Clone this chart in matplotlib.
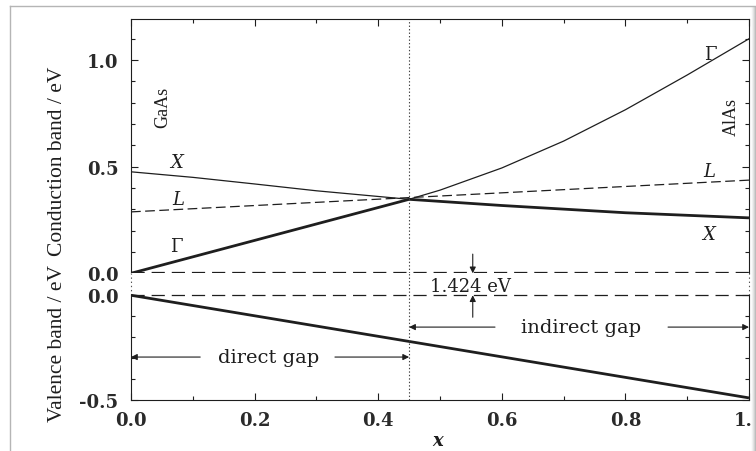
import matplotlib
matplotlib.use("Agg")
import matplotlib.pyplot as plt
import numpy as np
from matplotlib.ticker import MultipleLocator

# Band edges of Al(x)Ga(1-x)As, energies in eV
x_gamma_low = [0.0, 0.45]
e_gamma_low = [0.0, 0.347]
x_gamma_high = [0.45, 0.5, 0.6, 0.7, 0.8, 0.9, 1.0]
e_gamma_high = [0.347, 0.39, 0.494, 0.62, 0.767, 0.93, 1.10]
x_xband_high = [0.0, 0.1, 0.2, 0.3, 0.45]
e_xband_high = [0.476, 0.450, 0.419, 0.387, 0.347]
x_xband_low = [0.45, 0.6, 0.8, 1.0]
e_xband_low = [0.347, 0.318, 0.284, 0.260]
x_lband = [0.0, 1.0]
e_lband = [0.288, 0.437]
x_valence = [0.0, 1.0]
e_valence = [0.0, -0.49]

x_crossover = 0.45
gaas_gap = "1.424 eV"
x_ticks = [0.0, 0.2, 0.4, 0.6, 0.8, 1.0]
cb_ticks = [0.0, 0.5, 1.0]
vb_ticks = [-0.5, 0.0]

INK = "#1e1e1e"
SERIF = "DejaVu Serif"
TIMES = "Liberation Serif"
plt.rcParams["lines.scale_dashes"] = False

W, H = 756, 452
fig = plt.figure(figsize=(W / 100, H / 100), dpi=100)
fig.patch.set_facecolor("white")


def fx(px):
    return px / W


def fy(py):
    return 1 - py / H


left, right = fx(131), fx(749)
ax_c = fig.add_axes([left, fy(274.3), right - left, fy(19.5) - fy(274.3)])
ax_v = fig.add_axes([left, fy(401), right - left, fy(274.3) - fy(401)])

ax_c.set_xlim(0, 1)
ax_c.set_ylim(0, 1.195)
ax_v.set_xlim(0, 1)
ax_v.set_ylim(-0.5, 0.1048)

for ax in (ax_c, ax_v):
    for s in ax.spines.values():
        s.set_linewidth(0.8)
        s.set_color(INK)
    ax.xaxis.set_major_locator(MultipleLocator(0.2))
    ax.xaxis.set_minor_locator(MultipleLocator(0.1))
    ax.tick_params(which="both", direction="in", top=True, right=True,
                   colors=INK, width=0.8)
    ax.tick_params(which="major", length=5)
    ax.tick_params(which="minor", length=3)

tick_font = dict(family=SERIF, size=13, weight="bold", color="#2a2a2a")

ax_c.spines["bottom"].set_visible(False)
ax_c.tick_params(which="both", bottom=False, labelbottom=False)
ax_c.set_yticks(cb_ticks)
ax_c.set_yticks(np.arange(0.1, 1.2, 0.1), minor=True)
ax_c.set_yticklabels([f"{v:.1f}" for v in cb_ticks], **tick_font)
ax_c.tick_params(axis="y", pad=9)

ax_v.spines["top"].set_visible(False)
ax_v.tick_params(which="both", top=False)
ax_v.spines["left"].set_bounds(-0.5, 0)
ax_v.spines["right"].set_bounds(-0.5, 0)
ax_v.set_yticks(vb_ticks)
ax_v.set_yticks(np.arange(-0.4, 0.0, 0.1), minor=True)
ax_v.set_yticklabels([f"{v:.1f}" for v in vb_ticks], **tick_font)
ax_v.set_xticks(x_ticks)
ax_v.set_xticklabels([f"{v:.1f}" for v in x_ticks], **tick_font)
ax_v.tick_params(axis="y", pad=9)
ax_v.tick_params(axis="x", pad=8)

# dotted spine pieces across the break between the two panels
for xv in (0, 1):
    ax_v.plot([xv, xv], [0, 0.1048], ls=(0, (1, 2)), lw=0.8, color="#555555",
              clip_on=False)

# conduction band
thin, thick = 0.9, 2.0
ax_c.plot(x_gamma_low, e_gamma_low, color=INK, lw=thick, solid_capstyle="butt")
ax_c.plot(x_gamma_high, e_gamma_high, color=INK, lw=thin)
ax_c.plot(x_xband_high, e_xband_high, color=INK, lw=thin)
ax_c.plot(x_xband_low, e_xband_low, color=INK, lw=thick, solid_capstyle="butt")
ax_c.plot(x_lband, e_lband, color=INK, lw=thin, dashes=(7, 3.2))
ax_c.plot([0, 1], [0.004, 0.004], color=INK, lw=0.9, dashes=(9.5, 5),
          clip_on=False)

# valence band
ax_v.plot(x_valence, e_valence, color=INK, lw=thick, solid_capstyle="butt")
ax_v.plot([0, 1], [0, 0], color=INK, lw=0.9, dashes=(9.5, 5))

# crossover composition
for ax in (ax_c, ax_v):
    ax.axvline(x_crossover, color="#444444", lw=0.8, ls=(0, (1, 1.5)))

# band labels
lab = dict(family=SERIF, size=13, color=INK, ha="center", va="center")
ax_c.text(0.074, 0.52, "X", style="italic", **lab)
ax_c.text(0.076, 0.347, "L", style="italic", **lab)
ax_c.text(0.073, 0.128, "Γ", **lab)
ax_c.text(0.938, 1.028, "Γ", **lab)
ax_c.text(0.935, 0.48, "L", style="italic", **lab)
ax_c.text(0.934, 0.183, "X", style="italic", **lab)

ax_c.text(0.052, 0.784, "GaAs", family=TIMES, size=13, rotation=90,
          ha="center", va="center", color=INK)
ax_c.text(0.972, 0.739, "AlAs", family=TIMES, size=13, rotation=90,
          ha="center", va="center", color=INK)

# gap annotations
arr = dict(arrowstyle="-|>", color=INK, lw=0.8, mutation_scale=9,
           shrinkA=0, shrinkB=0)
x_gap = 0.553
ax_c.annotate("", xy=(x_gap, 0.0), xytext=(x_gap, 0.09), arrowprops=arr,
              annotation_clip=False)
ax_v.annotate("", xy=(x_gap, 0.0), xytext=(x_gap, -0.105), arrowprops=arr)
ax_v.text(0.55, 0.045, gaas_gap, family=SERIF, size=13, color=INK,
          ha="center", va="center")

gap_font = dict(family=SERIF, size=14, color=INK, ha="center", va="center")
y_dir, y_ind = -0.295, -0.152
ax_v.text(0.222, y_dir, "direct gap", **gap_font)
ax_v.annotate("", xy=(0.0, y_dir), xytext=(0.112, y_dir), arrowprops=arr)
ax_v.annotate("", xy=(x_crossover, y_dir), xytext=(0.33, y_dir), arrowprops=arr)
ax_v.text(0.728, y_ind, "indirect gap", **gap_font)
ax_v.annotate("", xy=(x_crossover, y_ind), xytext=(0.589, y_ind), arrowprops=arr)
ax_v.annotate("", xy=(1.0, y_ind), xytext=(0.869, y_ind), arrowprops=arr)

# axis titles
fig.text(fx(58), fy(161), "Conduction band / eV", family=TIMES, size=15.5,
         rotation=90, ha="center", va="center", color=INK)
fig.text(fx(58), fy(344), "Valence band / eV", family=TIMES, size=15.5,
         rotation=90, ha="center", va="center", color=INK)
fig.text(fx(438), fy(441), "x", family=SERIF, size=13, style="italic",
         weight="bold", ha="center", va="center", color=INK)

# page frame and scan shadow on the right edge
frame = dict(color="#b5b5b5", lw=1.0, transform=fig.transFigure)
fig.add_artist(plt.Line2D([fx(10), fx(10)], [fy(7), 0], **frame))
fig.add_artist(plt.Line2D([fx(10), 1], [fy(7), fy(7)], **frame))
shade = fig.add_axes([fx(751), 0, fx(5), fy(8)])
shade.imshow(np.linspace(1, 0, 16).reshape(1, -1), cmap="Greys_r", vmin=-1.5,
             vmax=1, aspect="auto")
shade.axis("off")

fig.savefig("out.png", dpi=100, facecolor="white")
